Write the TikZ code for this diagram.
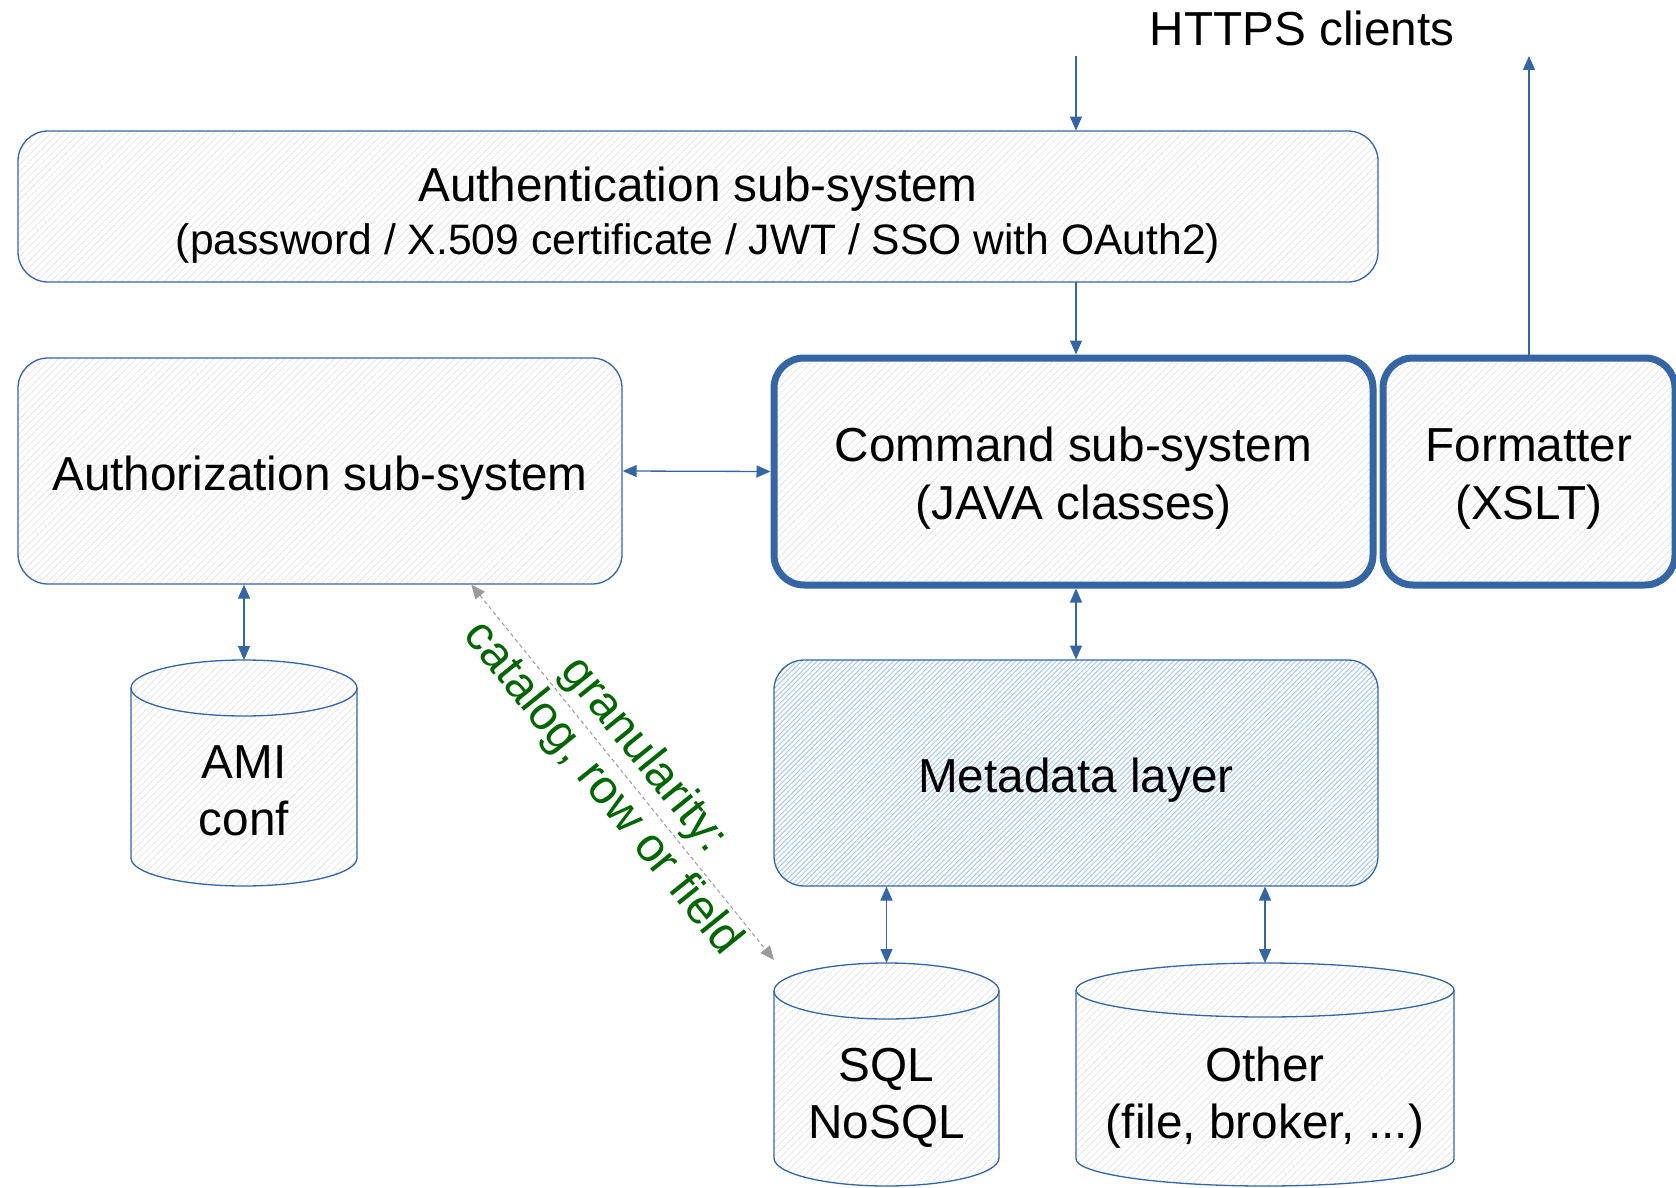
\documentclass[tikz,border=0pt]{standalone}
\usepackage{fontspec}
\setmainfont{Liberation Sans}
\usetikzlibrary{patterns.meta,arrows.meta,calc,backgrounds}
\definecolor{boxblue}{RGB}{52,101,164}
\definecolor{hatchgray}{RGB}{228,228,228}
\definecolor{hatchblue}{RGB}{165,200,238}
\definecolor{notegreen}{RGB}{0,102,0}
\definecolor{notegray}{RGB}{155,155,155}

\begin{document}
\begin{tikzpicture}[x=1pt,y=-1pt,
    font=\fontsize{47.7}{57.5}\selectfont,
    >={Triangle[length=14pt,width=12pt]},
    grayhatch/.style={pattern={Lines[angle=45,distance=5pt,line width=0.8pt]},pattern color=hatchgray},
    subsys/.style={draw=boxblue,line width=1.3pt,rounded corners=30pt,align=center,inner sep=0pt,
        text height=48pt,grayhatch},
    twoline/.style={text height=95pt,text depth=0pt},
    core/.style={subsys,twoline,line width=7pt},
    meta/.style={subsys,pattern={Lines[angle=45,distance=3.6pt,line width=1pt]},pattern color=hatchblue},
    store/.style={anchor=north,align=center,inner sep=0pt,outer sep=0pt,text depth=0pt},
    drumline/.style={draw=boxblue,line width=1.3pt},
    conn/.style={draw=boxblue,line width=1.3pt}]

    \useasboundingbox (0,0) rectangle (1676,1188);

    % boxes
    \node[subsys,twoline,font=\fontsize{47.7}{53}\selectfont,minimum width=1360,minimum height=151] (authn) at (698,206.5)
        {Authentication sub-system\\{\fontsize{42.6}{53}\selectfont(password / X.509 certificate / JWT / SSO with OAuth2)}};
    \node[subsys,minimum width=604,minimum height=226] (authz) at (320,471) {Authorization sub-system};
    \node[core,minimum width=599,minimum height=227] (cmd) at (1073.5,471.5) {Command sub-system\\(JAVA classes)};
    \node[core,minimum width=292,minimum height=227] (fmt) at (1529,471.5) {Formatter\\(XSLT)};
    \node[meta,minimum width=604,minimum height=226] (mdl) at (1076,773) {Metadata layer};

    % storage
    \node[store,text height=125pt,minimum width=226,minimum height=226] (ami) at (244,660) {AMI\\conf};
    \node[store,text height=128pt,minimum width=225,minimum height=223] (sql) at (886.5,963) {SQL\\NoSQL};
    \node[store,text height=128pt,minimum width=378,minimum height=223] (other) at (1265,963) {Other\\(file, broker, ...)};

    \begin{scope}[on background layer]
    \foreach \n/\rx/\ry in {ami/113/28,sql/112.5/28,other/189/27}{
        \draw[drumline,grayhatch] ($(\n.north west)+(0,\ry)$) -- ($(\n.south west)+(0,-\ry)$)
            arc[start angle=180,end angle=0,x radius=\rx,y radius=\ry] -- ($(\n.north east)+(0,\ry)$)
            arc[start angle=0,end angle=-180,x radius=\rx,y radius=\ry] -- cycle;
        \draw[drumline] ($(\n.north west)+(0,\ry)$) arc[start angle=180,end angle=0,x radius=\rx,y radius=\ry];
    }
    \end{scope}

    % clients
    \node (https) at (1302,28) {HTTPS clients};
    \coordinate (in) at (1076,56);

    % connectors
    \draw[conn,->] (in) -- (in |- authn.north);
    \draw[conn,->] (authn.south -| in) -- (cmd.north -| in);
    \draw[conn,->] (fmt.north) -- (fmt.north |- in);
    \draw[conn,<->] (authz.east) -- (cmd.west);
    \draw[conn,<->] (ami.north |- authz.south) -- (ami.north);
    \draw[conn,<->] (mdl.north |- cmd.south) -- (mdl.north);
    \draw[conn,<->] (sql.north |- mdl.south) -- (sql.north);
    \draw[conn,<->] (other.north |- mdl.south) -- (other.north);

    % access granularity
    \coordinate (gs) at ($(authz.south west)!0.75!(authz.south east)$);
    \coordinate (ge) at (774,960);
    \draw[notegray,line width=1pt,dash pattern=on 4pt off 3pt,<->] (gs) -- (ge)
        node[midway,sloped,align=center,text=notegreen,font=\fontsize{47.7}{53}\selectfont] {granularity:\\catalog, row or field};

\end{tikzpicture}
\end{document}
